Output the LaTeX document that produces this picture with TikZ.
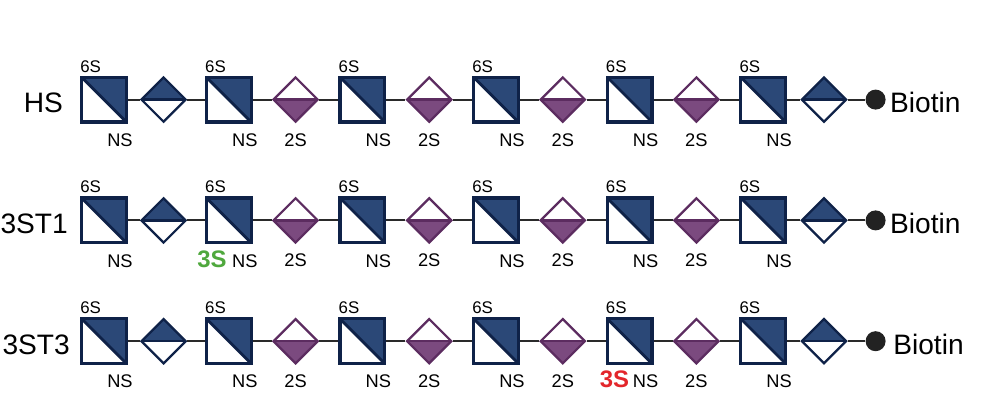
\documentclass[tikz,border=0pt]{standalone}
\usepackage{fontspec}
\setmainfont{Liberation Sans}
\usetikzlibrary{positioning,shapes.geometric}

\definecolor{navyfill}{HTML}{2B4877}
\definecolor{navyline}{HTML}{0F2248}
\definecolor{plumfill}{HTML}{7B4A7F}
\definecolor{plumline}{HTML}{5C2C60}
\definecolor{linkgray}{HTML}{2A2A2A}
\definecolor{dotblack}{HTML}{222222}
\definecolor{greenthree}{HTML}{4FA83D}
\definecolor{redthree}{HTML}{E3262B}

\tikzset{
  lbl/.style={font=\fontsize{13}{15}\selectfont, inner sep=0pt},
  toplbl/.style={font=\fontsize{12}{14}\selectfont, inner sep=0pt, anchor=south west, yshift=0.08cm},
  botlbl/.style={lbl, anchor=base, yshift=-0.57cm},
  threes/.style={botlbl, font=\fontsize{17}{19}\selectfont\bfseries},
  rowlbl/.style={font=\fontsize{20}{24}\selectfont, inner sep=0pt},
  link/.style={draw=linkgray, line width=1.5pt},
  glcn/.style={draw=navyline, line width=2.2pt, fill=white, minimum size=1.12cm, inner sep=0pt,
    path picture={
      \fill[navyfill] (path picture bounding box.north west) -- (path picture bounding box.north east)
        -- (path picture bounding box.south east) -- cycle;
      \draw[navyline, line width=2pt] (path picture bounding box.north west) -- (path picture bounding box.south east);
    },
    label={[toplbl]north west:6S},
    label={[botlbl, xshift=-0.2cm]south east:NS}},
  glca/.style={diamond, aspect=1, draw=navyline, line width=1.6pt, fill=white,
    minimum width=1.13cm, minimum height=1.13cm, inner sep=0pt,
    path picture={
      \fill[navyfill] (path picture bounding box.west) rectangle (path picture bounding box.north east);
      \draw[navyline, line width=1.6pt] (path picture bounding box.west) -- (path picture bounding box.east);
    }},
  idoa/.style={diamond, aspect=1, draw=plumline, line width=1.6pt, fill=white,
    minimum width=1.13cm, minimum height=1.13cm, inner sep=0pt,
    path picture={
      \fill[plumfill] (path picture bounding box.west) rectangle (path picture bounding box.south east);
      \draw[plumline, line width=1.6pt] (path picture bounding box.west) -- (path picture bounding box.east);
    },
    label={[botlbl]south:2S}},
  bio/.style={circle, fill=dotblack, minimum size=0.5cm, inner sep=0pt}
}

\begin{document}
\begin{tikzpicture}[on grid, node distance=1.67cm]

  \useasboundingbox (0,0) rectangle (24.7,-10.375);

  % HS

  \node[glcn] (hs1) at (2.6,-2.49) {};
  \node[glca, right=1.49cm of hs1] (hs2) {};
  \node[glcn, right=1.63cm of hs2] (hs3) {};
  \node[idoa, right=of hs3] (hs4) {};
  \node[glcn, right=of hs4] (hs5) {};
  \node[idoa, right=of hs5] (hs6) {};
  \node[glcn, right=of hs6] (hs7) {};
  \node[idoa, right=of hs7] (hs8) {};
  \node[glcn, right=of hs8] (hs9) {};
  \node[idoa, right=of hs9] (hs10) {};
  \node[glcn, right=of hs10] (hs11) {};
  \node[glca, right=1.52cm of hs11] (hs12) {};
  \node[bio, right=1.29cm of hs12] (hsd) {};
  \node[rowlbl, anchor=east] (hsl) at ([xshift=-0.42cm, yshift=-0.08cm]hs1.west) {HS};
  \node[rowlbl, anchor=west] (hsb) at ([xshift=0.1cm, yshift=-0.08cm]hsd.east) {Biotin};

  % 3ST1

  \node[glcn, below=3.02cm of hs1] (ta1) {};
  \node[glca, right=1.49cm of ta1] (ta2) {};
  \node[glcn, right=1.63cm of ta2, label={[threes, text=greenthree, xshift=-0.42cm]south:3S}] (ta3) {};
  \node[idoa, right=of ta3] (ta4) {};
  \node[glcn, right=of ta4] (ta5) {};
  \node[idoa, right=of ta5] (ta6) {};
  \node[glcn, right=of ta6] (ta7) {};
  \node[idoa, right=of ta7] (ta8) {};
  \node[glcn, right=of ta8] (ta9) {};
  \node[idoa, right=of ta9] (ta10) {};
  \node[glcn, right=of ta10] (ta11) {};
  \node[glca, right=1.52cm of ta11] (ta12) {};
  \node[bio, right=1.29cm of ta12] (tad) {};
  \node[rowlbl, anchor=east] (tal) at ([xshift=-0.3cm, yshift=-0.08cm]ta1.west) {3ST1};
  \node[rowlbl, anchor=west] (tab) at ([xshift=0.1cm, yshift=-0.08cm]tad.east) {Biotin};

  % 3ST3

  \node[glcn, below=3.02cm of ta1] (tc1) {};
  \node[glca, right=1.49cm of tc1] (tc2) {};
  \node[glcn, right=1.63cm of tc2] (tc3) {};
  \node[idoa, right=of tc3] (tc4) {};
  \node[glcn, right=of tc4] (tc5) {};
  \node[idoa, right=of tc5] (tc6) {};
  \node[glcn, right=of tc6] (tc7) {};
  \node[idoa, right=of tc7] (tc8) {};
  \node[glcn, right=of tc8, label={[threes, text=redthree, xshift=-0.38cm]south:3S}] (tc9) {};
  \node[idoa, right=of tc9] (tc10) {};
  \node[glcn, right=of tc10] (tc11) {};
  \node[glca, right=1.52cm of tc11] (tc12) {};
  \node[bio, right=1.29cm of tc12] (tcd) {};
  \node[rowlbl, anchor=east] (tcl) at ([xshift=-0.25cm, yshift=-0.08cm]tc1.west) {3ST3};
  \node[rowlbl, anchor=west] (tcb) at ([xshift=0.18cm, yshift=-0.08cm]tcd.east) {Biotin};

  % Links

  \draw[link] (hs1) -- (hs2) -- (hs3) -- (hs4) -- (hs5) -- (hs6) -- (hs7)
    -- (hs8) -- (hs9) -- (hs10) -- (hs11) -- (hs12) -- (hsd);
  \draw[link] (ta1) -- (ta2) -- (ta3) -- (ta4) -- (ta5) -- (ta6) -- (ta7)
    -- (ta8) -- (ta9) -- (ta10) -- (ta11) -- (ta12) -- (tad);
  \draw[link] (tc1) -- (tc2) -- (tc3) -- (tc4) -- (tc5) -- (tc6) -- (tc7)
    -- (tc8) -- (tc9) -- (tc10) -- (tc11) -- (tc12) -- (tcd);

\end{tikzpicture}
\end{document}
